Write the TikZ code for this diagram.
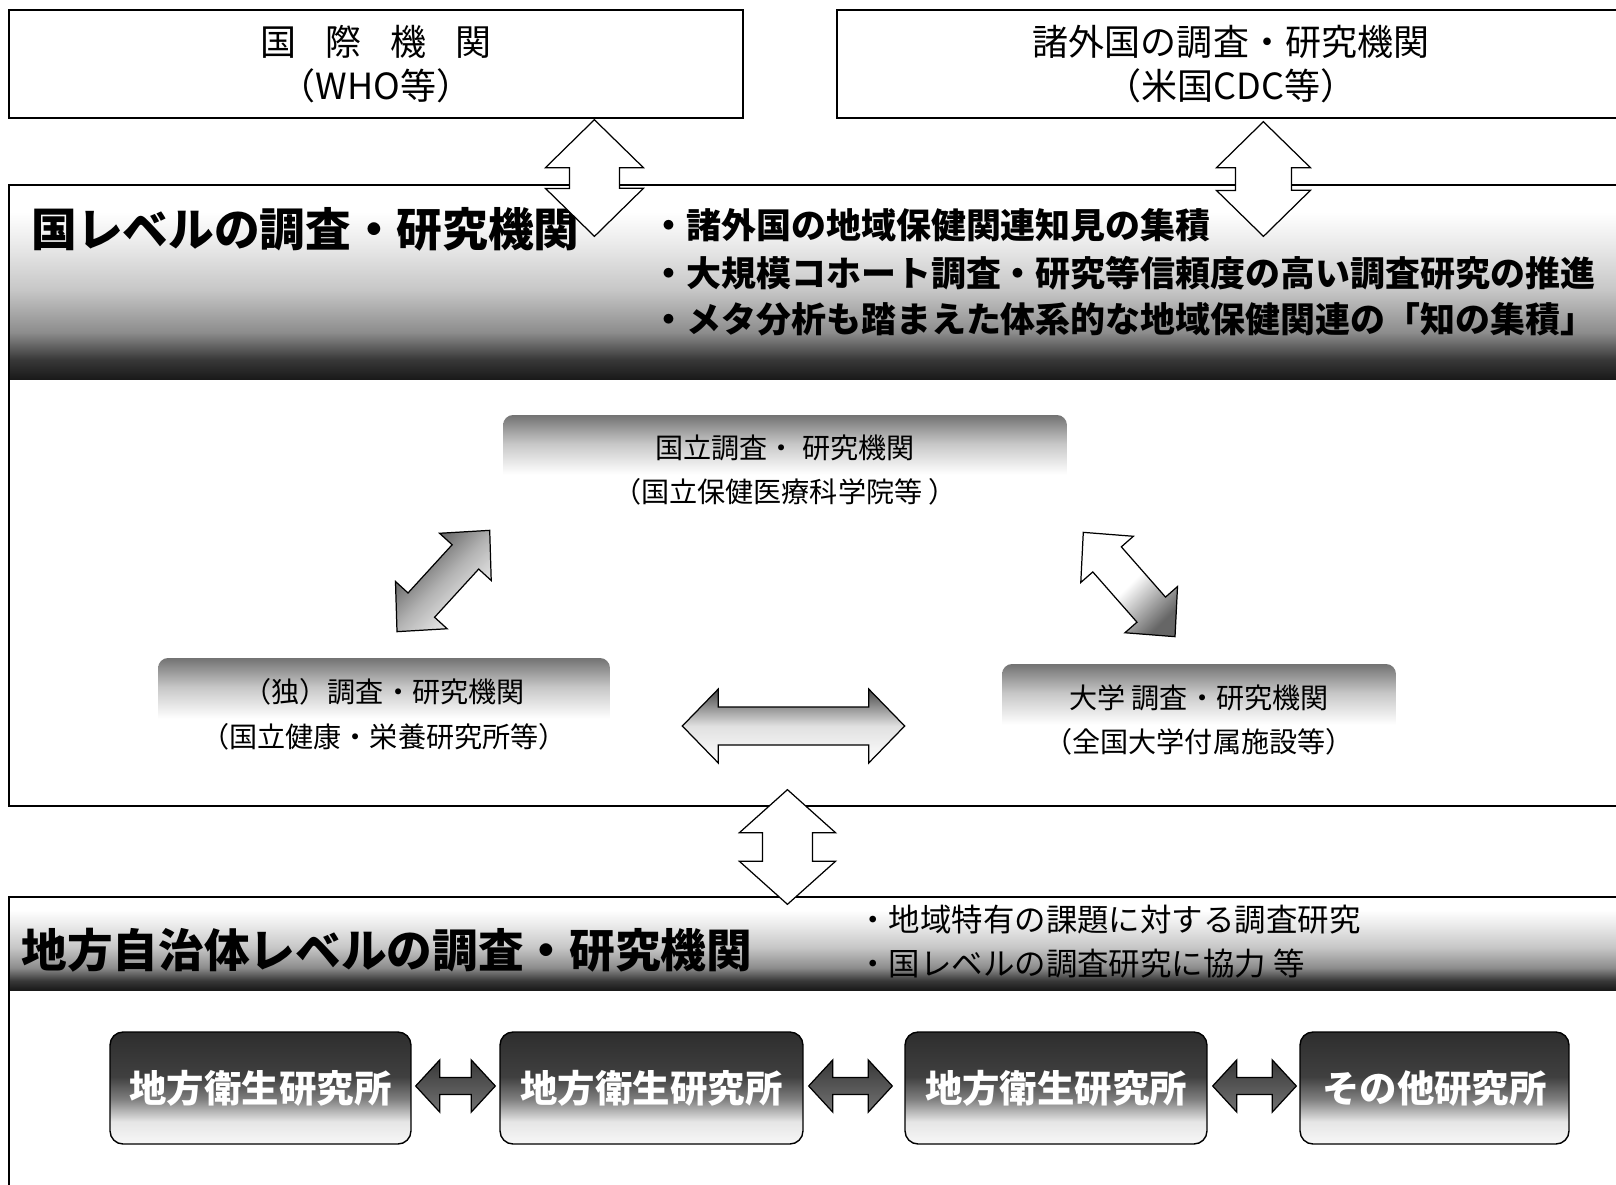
\documentclass[tikz,border=0pt]{standalone}
\usepackage{fontspec}
\setmainfont{Noto Sans CJK JP}
\usetikzlibrary{calc}
\pgfdeclareverticalshading{bandshade}{100bp}{color(0bp)=(black!90); color(25bp)=(black!90); color(30bp)=(black!78); color(37bp)=(black!45); color(48bp)=(black!22); color(60bp)=(black!8); color(68bp)=(white); color(100bp)=(white)}
\pgfdeclareverticalshading{midshade}{100bp}{color(0bp)=(white); color(48bp)=(white); color(62bp)=(black!22); color(75bp)=(black!55); color(100bp)=(black!55)}
\pgfdeclareverticalshading{locshade}{100bp}{color(0bp)=(black!3); color(25bp)=(black!3); color(35bp)=(black!10); color(45bp)=(black!50); color(55bp)=(black!75); color(75bp)=(black!82); color(100bp)=(black!82)}
% double block arrow: #1 tip A, #2 tip B, #3 head length, #4 head half width, #5 shaft half width, #6 style
\newcommand{\blkdbl}[6]{%
  \path (#1) coordinate (ba-a) (#2) coordinate (ba-b);
  \path ($(ba-a)!#3!(ba-b)$) coordinate (ba-ha) ($(ba-b)!#3!(ba-a)$) coordinate (ba-hb);
  \path[#6] (ba-a) -- ($(ba-ha)!#4!90:(ba-b)$) -- ($(ba-ha)!#5!90:(ba-b)$)
    -- ($(ba-hb)!#5!-90:(ba-a)$) -- ($(ba-hb)!#4!-90:(ba-a)$) -- (ba-b)
    -- ($(ba-hb)!#4!90:(ba-a)$) -- ($(ba-hb)!#5!90:(ba-a)$)
    -- ($(ba-ha)!#5!-90:(ba-b)$) -- ($(ba-ha)!#4!-90:(ba-b)$) -- cycle;
}
\begin{document}
\begin{tikzpicture}[x=0.02cm, y=0.02cm,
  boxline/.style={draw, line width=0.8pt, inner sep=0pt},
  topbox/.style={boxline, align=center, font=\fontsize{20.5pt}{25pt}\selectfont},
  hdr/.style={inner sep=0pt, anchor=west, font=\bfseries\fontsize{26pt}{30pt}\selectfont},
  natbul/.style={inner sep=0pt, anchor=west, font=\bfseries\fontsize{19.9pt}{24pt}\selectfont},
  locbul/.style={inner sep=0pt, anchor=west, font=\fontsize{17.9pt}{21pt}\selectfont},
  midbox/.style={shading=midshade, rounded corners=0.2cm, align=center, inner sep=0pt, font=\fontsize{16pt}{25.5pt}\selectfont},
  locbox/.style={draw, line width=0.8pt, shading=locshade, rounded corners=0.26cm, minimum height=2.24cm, inner sep=0pt, text=white, font=\bfseries\fontsize{21.3pt}{25pt}\selectfont},
  blk/.style={draw, line width=0.7pt, line join=miter},
]
\useasboundingbox (0,0) rectangle (1616,-1184);
\clip (0,0) rectangle (1616,-1184);
\fill[white] (0,0) rectangle (1616,-1184);

% top boxes
\node[topbox, minimum width=14.68cm, minimum height=2.16cm] (intl) at (376,-64) {国\hspace{0.8em}際\hspace{0.8em}機\hspace{0.8em}関\\（WHO等）};
\node[topbox, minimum width=15.76cm, minimum height=2.16cm] (foreign) at (1231,-64) {諸外国の調査・研究機関\\（米国CDC等）};

% national level box
\shade[shading=bandshade] (9,-185) rectangle (1625,-379);
\node[boxline, minimum width=32.32cm, minimum height=12.42cm] (nat) at (817,-495.5) {};
\node[hdr] (nathd) at (31,-229) {国レベルの調査・研究機関};
\node[natbul] (nb1) at (651,-225) {・諸外国の地域保健関連知見の集積};
\node[natbul] (nb2) at (651,-273) {・大規模コホート調査・研究等信頼度の高い調査研究の推進};
\node[natbul] (nb3) at (651,-319) {・メタ分析も踏まえた体系的な地域保健関連の「知の集積」};

% local level box
\shade[shading=bandshade] (9,-897) rectangle (1625,-990);
\node[boxline, minimum width=32.32cm, minimum height=6.06cm] (loc) at (817,-1048.5) {};
\node[hdr] (lochd) at (21,-950) {地方自治体レベルの調査・研究機関};
\node[locbul] (lb1) at (857,-920) {・地域特有の課題に対する調査研究};
\node[locbul] (lb2) at (857,-964) {・国レベルの調査研究に協力 等};

% national institutions
\node[midbox, minimum width=11.28cm, minimum height=2.2cm] (nih) at (785,-470) {国立調査・ 研究機関\\（国立保健医療科学院等 ）};
\node[midbox, minimum width=9.04cm, minimum height=2.24cm] (ind) at (384,-714) {（独）調査・研究機関\\（国立健康・栄養研究所等）};
\node[midbox, minimum width=7.88cm, minimum height=2.24cm] (univ) at (1199,-720) {大学 調査・研究機関\\（全国大学付属施設等）};

% local institutions
\node[locbox, minimum width=6.02cm] (lr1) at (260.5,-1088) {地方衛生研究所};
\node[locbox, minimum width=6.06cm] (lr2) at (651.5,-1088) {地方衛生研究所};
\node[locbox, minimum width=6.04cm] (lr3) at (1056,-1088) {地方衛生研究所};
\node[locbox, minimum width=5.38cm] (lr4) at (1434.5,-1088) {その他研究所};

% arrow end points
\coordinate (a1t) at ($(intl.south west)+(586,-1)$);
\coordinate (a1b) at ($(nat.north west)+(586,-52)$);
\coordinate (a2t) at ($(foreign.south west)+(427,-3)$);
\coordinate (a2b) at ($(nat.north west)+(1255,-52)$);
\coordinate (a3t) at ($(nat.south west)+(779,17)$);
\coordinate (a3b) at ($(loc.north west)+(779,-8)$);
\coordinate (hl) at ($(ind.east)+(72,-12)$);
\coordinate (hr) at ($(univ.west)+(-97,-6)$);
\coordinate (dl1) at ($(ind.north)+(13,26)$);
\coordinate (dl2) at ($(nih.south west)+(-13,-5)$);
\coordinate (dr1) at ($(nih.south east)+(16,-7)$);
\coordinate (dr2) at ($(univ.north)+(-24,27)$);
\coordinate (s1a) at ($(lr1.east)+(4,2)$);
\coordinate (s1b) at ($(lr2.west)+(-4,2)$);
\coordinate (s2a) at ($(lr2.east)+(5,2)$);
\coordinate (s2b) at ($(lr3.west)+(-12,2)$);
\coordinate (s3a) at ($(lr3.east)+(5,2)$);
\coordinate (s3b) at ($(lr4.west)+(-3,2)$);

% block arrows
\blkdbl{a1t}{a1b}{0.96cm}{0.98cm}{0.5cm}{blk, fill=white}
\blkdbl{a2t}{a2b}{0.92cm}{0.94cm}{0.56cm}{blk, fill=white}
\blkdbl{a3t}{a3b}{0.86cm}{0.96cm}{0.5cm}{blk, fill=white}
\blkdbl{hl}{hr}{0.72cm}{0.74cm}{0.38cm}{blk, top color=black!72, bottom color=white, middle color=black!12}
\blkdbl{dl1}{dl2}{0.72cm}{0.7cm}{0.36cm}{blk, top color=black!72, bottom color=white, middle color=black!30, shading angle=45}
\blkdbl{dr1}{dr2}{0.72cm}{0.7cm}{0.38cm}{blk, top color=white, bottom color=black!60, middle color=white, shading angle=45}
\blkdbl{s1a}{s1b}{0.48cm}{0.52cm}{0.17cm}{blk, top color=black!78, bottom color=black!55}
\blkdbl{s2a}{s2b}{0.48cm}{0.52cm}{0.17cm}{blk, top color=black!78, bottom color=black!55}
\blkdbl{s3a}{s3b}{0.48cm}{0.52cm}{0.17cm}{blk, top color=black!78, bottom color=black!55}
\end{tikzpicture}
\end{document}
